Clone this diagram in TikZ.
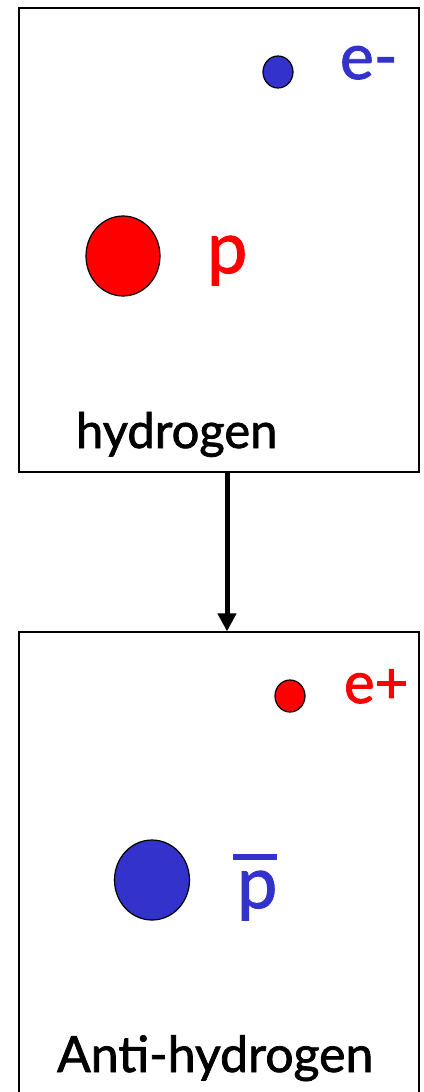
\documentclass[tikz,border=0pt]{standalone}
\usepackage{fontspec}
\setmainfont{Lato}[FakeBold=1.5,BoldFont=Lato]
\usetikzlibrary{arrows.meta}
\definecolor{eblue}{RGB}{51,51,204}
\definecolor{pred}{RGB}{255,0,0}
\begin{document}
\begin{tikzpicture}[x=1pt,y=-1pt,
  panel/.style={draw=black,line width=1.3pt,rectangle,minimum width=400pt,inner sep=0pt},
  lbl/.style={anchor=base west,inner sep=0pt,outer sep=0pt}]
\useasboundingbox (0,0) rectangle (423,1092);
% panels
\node[panel,minimum height=464pt] (top) at (219,240) {};
\node[panel,minimum height=462pt] (bot) at (219,863) {};
% top panel content
\fill[eblue,draw=black,line width=1.2pt] (278,72) ellipse [x radius=15,y radius=16];
\node[lbl,text=eblue,font=\fontsize{64}{64}\selectfont\bfseries] (em) at (340,79) {e-};
\fill[pred,draw=black,line width=1.2pt] (123,256) ellipse [x radius=37,y radius=40];
\node[lbl,text=pred,font=\fontsize{72}{72}\selectfont\bfseries] (p) at (207,273) {p};
\node[lbl,font=\fontsize{49}{49}\selectfont\bfseries] (h) at (76,448) {hydrogen};
% bottom panel content
\fill[pred,draw=black,line width=1.2pt] (290,696) ellipse [x radius=15,y radius=16];
\node[lbl,text=pred,font=\fontsize{58}{58}\selectfont\bfseries] (ep) at (344,703) {e+};
\fill[eblue,draw=black,line width=1.2pt] (152,880) ellipse [x radius=37.5,y radius=40];
\node[lbl,text=eblue,font=\fontsize{72}{72}\selectfont\bfseries] (pbar) at (237,908)
  {\makebox[0pt][l]{\hspace*{-4pt}\rule[48pt]{44pt}{6pt}}p};
\node[lbl,font=\fontsize{50}{50}\selectfont\bfseries] (ah) at (57,1072) {Anti-hydrogen};
% arrow
\draw[line width=5pt,-{Triangle[width=18pt,length=18pt]}]
  ([xshift=8pt]top.south) -- ([xshift=8pt]bot.north);
\end{tikzpicture}
\end{document}
